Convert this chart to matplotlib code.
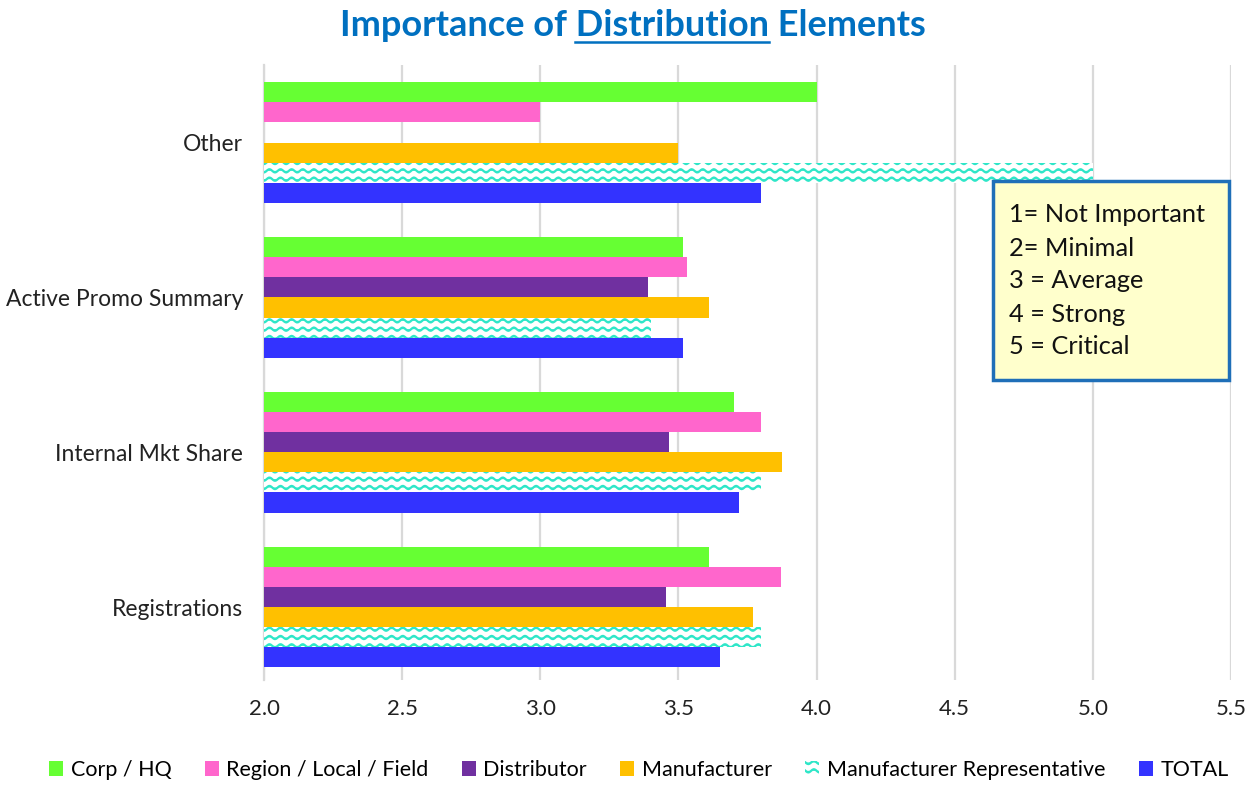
import warnings
import numpy as np
import matplotlib
matplotlib.use("Agg")
import matplotlib.pyplot as plt
import matplotlib.hatch as mhatch
from matplotlib.path import Path
from matplotlib.patches import Rectangle
from matplotlib.lines import Line2D

warnings.filterwarnings("ignore")

# data, bottom category first
categories = ["Registrations", "Internal Mkt Share", "Active Promo Summary", "Other"]
corp_hq = [3.61, 3.70, 3.515, 4.0]
region_field = [3.87, 3.80, 3.53, 3.0]
distributor = [3.455, 3.465, 3.39, np.nan]
manufacturer = [3.77, 3.875, 3.61, 3.5]
mfr_rep = [3.80, 3.80, 3.40, 5.0]
total = [3.65, 3.72, 3.515, 3.80]

series_names = ["Corp / HQ", "Region / Local / Field", "Distributor",
                "Manufacturer", "Manufacturer Representative", "TOTAL"]
series_values = [corp_hq, region_field, distributor, manufacturer, mfr_rep, total]
series_colors = ["#66FF33", "#FF66CC", "#7030A0", "#FFC000", "#2EE6C8", "#3333FF"]
x_ticks = [2.0, 2.5, 3.0, 3.5, 4.0, 4.5, 5.0, 5.5]
scale_notes = ["1= Not Important", "2= Minimal", "3 = Average", "4 = Strong", "5 = Critical"]


# wavy hatch for the representative series
class WaveHatch(mhatch.HatchPatternBase):
    steps = 96

    def __init__(self, hatch, density):
        self.num_rows = hatch.count("~") * 4
        self.num_vertices = self.num_rows * (self.steps + 1)

    def set_vertices_and_codes(self, vertices, codes):
        t = np.linspace(0, 1, self.steps + 1)
        n = self.steps + 1
        for r in range(self.num_rows):
            y0 = (r + 0.5) / self.num_rows
            vertices[r * n:(r + 1) * n, 0] = t
            vertices[r * n:(r + 1) * n, 1] = y0 + 0.016 * np.sin(2 * np.pi * 9 * t)
            codes[r * n:(r + 1) * n] = Path.LINETO
            codes[r * n] = Path.MOVETO


mhatch._hatch_types.append(WaveHatch)

plt.rcParams["font.family"] = ["Lato", "DejaVu Sans"]
plt.rcParams["hatch.linewidth"] = 1.6

fig = plt.figure(figsize=(12.5, 7.85), dpi=100)
ax = fig.add_axes([0.2112, 0.134, 0.7736, 0.783])

h = 0.13
y = np.arange(len(categories))
for j, (name, vals, col) in enumerate(zip(series_names, series_values, series_colors)):
    pos = y + (2.5 - j) * h
    if name == "Manufacturer Representative":
        ax.barh(pos, vals, height=h, color="white", edgecolor=col, linewidth=0,
                hatch="~~~", label=name, zorder=3)
    else:
        ax.barh(pos, vals, height=h, color=col, linewidth=0, label=name, zorder=3)

ax.set_xlim(2.0, 5.5)
ax.set_ylim(-0.47, 3.5)
ax.set_xticks(x_ticks)
ax.set_xticklabels([f"{v:.1f}" for v in x_ticks])
ax.set_yticks(y)
ax.set_yticklabels(categories)
ax.tick_params(axis="both", length=0, colors="#222222")
ax.tick_params(axis="y", pad=15, labelsize=16.5)
ax.tick_params(axis="x", pad=14, labelsize=16)
ax.grid(axis="x", color="#D9D9D9", linewidth=1.6, zorder=0)
for side in ["top", "right", "bottom"]:
    ax.spines[side].set_visible(False)
ax.spines["left"].set_color("#D9D9D9")
ax.spines["left"].set_linewidth(1.6)

# title with underlined word
title_kw = dict(fontsize=26, fontweight="bold", color="#0070C0")
title = fig.text(0.506, 1 - 36 / 785, "Importance of Distribution Elements",
                 ha="center", va="baseline", **title_kw)
fig.canvas.draw()
renderer = fig.canvas.get_renderer()
tb = title.get_window_extent(renderer)
probe = fig.text(0, 0, "Importance of Distribution", **title_kw)
w_head = probe.get_window_extent(renderer).width
probe.set_text("Distribution")
w_word = probe.get_window_extent(renderer).width
probe.remove()
x_end = tb.x0 + w_head
x_start = x_end - w_word
y_line = (785 - 42) / 785
fig.add_artist(Line2D([x_start / 1250, x_end / 1250], [y_line, y_line],
                      transform=fig.transFigure, color="#0070C0", linewidth=1.8))

# scale key box
fig.add_artist(Rectangle((993 / 1250, 1 - 380 / 785), 236 / 1250, 199 / 785,
                         transform=fig.transFigure, facecolor="#FFFFCC",
                         edgecolor="#1F6FB8", linewidth=2.5, zorder=5))
for k, note in enumerate(scale_notes):
    fig.text(1009 / 1250, 1 - (215 + 33 * k) / 785, note, fontsize=18.3,
             color="#111111", va="center", ha="left", zorder=6)

fig.legend(loc="center", bbox_to_anchor=(0.511, 1 - 770 / 785), ncol=6,
           frameon=False, fontsize=15.5, handlelength=0.65, handleheight=0.65,
           handletextpad=0.35, columnspacing=1.55)

fig.savefig("out.png", dpi=100)
